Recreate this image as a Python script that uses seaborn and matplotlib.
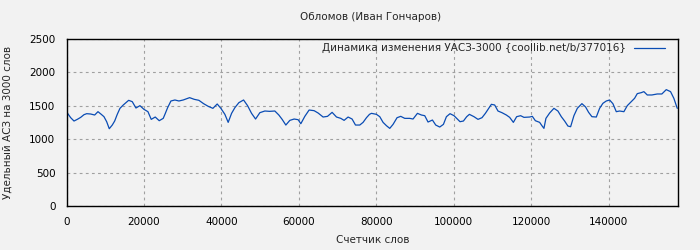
import matplotlib
matplotlib.use("Agg")
import matplotlib.pyplot as plt
import seaborn as sns
import pandas as pd

title = "Обломов (Иван Гончаров)"
x_label = "Счетчик слов"
y_label = "Удельный АСЗ на 3000 слов"
series_name = "Динамика изменения УАСЗ-3000 {coollib.net/b/377016}"

words = [0, 1080, 1935, 2787, 3664, 4516, 5213, 6245, 7277, 8129, 8981, 9677, 10374, 11045,
         11819, 12439, 13109, 13806, 14658, 15355, 16051, 16980, 17935, 18967, 20000, 21032,
         21884, 22916, 23948, 24980, 25419, 26116, 26967, 28000, 29032, 30141, 31793, 32980,
         34193, 35406, 36593, 37806, 38916, 39870, 40903, 41754, 42632, 43483, 44516, 45729,
         46761, 47793, 48825, 49935, 51225, 52438, 53806, 54838, 55690, 56645, 57677, 58787,
         59819, 60516, 61548, 62658, 63948, 64980, 66270, 67406, 68593, 69728, 70838, 71690,
         72722, 73754, 74632, 75741, 76593, 77470, 78244, 78760, 80050, 80903, 81754, 82632,
         83483, 84335, 85367, 86322, 87354, 88645, 89496, 90632, 91664, 92516, 93367, 94503,
         95354, 96386, 97341, 98115, 99044, 100076, 100773, 101625, 102502, 103354, 104050,
         105237, 106269, 107301, 108178, 109030, 109727, 110579, 111430, 112462, 113598,
         114449, 115404, 116255, 117287, 118139, 119610, 120306, 121081, 122190, 122784,
         123300, 123816, 124771, 125881, 126913, 127790, 128642, 129494, 130192, 131043,
         131921, 133108, 134062, 134837, 135689, 136824, 137676, 138528, 139405, 140257,
         141109, 141986, 142838, 143947, 144825, 145857, 146709, 147405, 148438, 149108,
         149986, 151173, 152566, 153753, 154889, 155999, 156851, 157728]

values = [1410, 1322, 1272, 1297, 1327, 1367, 1382, 1377, 1362, 1412, 1372, 1337, 1262, 1157,
          1212, 1272, 1372, 1462, 1512, 1547, 1582, 1562, 1467, 1502, 1447, 1412,
          1297, 1332, 1277, 1312, 1372, 1472, 1572, 1587, 1572, 1587, 1622, 1597,
          1582, 1532, 1492, 1462, 1527, 1462, 1372, 1252, 1387, 1472, 1547, 1587,
          1502, 1387, 1302, 1397, 1422, 1417, 1422, 1362, 1297, 1212, 1282, 1302,
          1292, 1232, 1342, 1437, 1427, 1392, 1332, 1342, 1402, 1332, 1312, 1282,
          1332, 1302, 1212, 1212, 1252, 1322, 1372, 1387, 1372, 1337, 1252, 1202,
          1162, 1222, 1322, 1342, 1312, 1312, 1302, 1387, 1362, 1352, 1257, 1287,
          1212, 1182, 1222, 1337, 1382, 1352, 1312, 1262, 1272, 1337, 1372,
          1337, 1297, 1322, 1387, 1462, 1522, 1512, 1422, 1397, 1362,
          1327, 1252, 1337, 1352, 1327, 1332, 1342, 1277, 1252, 1202,
          1162, 1312, 1392, 1462, 1422, 1337, 1272, 1197, 1187, 1352,
          1462, 1532, 1482, 1402, 1337, 1332, 1462, 1537, 1572, 1587,
          1532, 1412, 1422, 1412, 1502, 1562, 1612, 1682, 1697, 1712,
          1662, 1662, 1677, 1677, 1742, 1712, 1612, 1462]

x_ticks = [0, 20000, 40000, 60000, 80000, 100000, 120000, 140000]
y_ticks = [0, 500, 1000, 1500, 2000, 2500]

df = pd.DataFrame({"words": words, "value": values})

sns.set_theme(style="white")
plt.rcParams["font.family"] = ["DejaVu Sans"]
bg = "#f2f2f2"

fig = plt.figure(figsize=(7, 2.5), dpi=100, facecolor=bg)
ax = fig.add_axes([0.095, 0.176, 0.874, 0.668])
ax.set_facecolor(bg)

sns.lineplot(data=df, x="words", y="value", ax=ax, color="#0a4cb4", linewidth=0.9,
             label=series_name)

ax.set_xlim(0, 158000)
ax.set_ylim(0, 2500)
ax.set_xticks(x_ticks)
ax.set_xticklabels([str(t) for t in x_ticks])
ax.set_yticks(y_ticks)
ax.set_yticklabels([str(t) for t in y_ticks])
ax.tick_params(labelsize=7.5, length=0, pad=8, colors="black")
ax.grid(True, color="#a0a0a0", linestyle=(0, (2.5, 3)), linewidth=0.8)

for s in ax.spines.values():
    s.set_color("black")
    s.set_linewidth(1.0)

ax.set_xlabel(x_label, fontsize=7.5, labelpad=6)
ax.set_ylabel(y_label, fontsize=7.5, labelpad=12)
fig.text(0.53, 0.93, title, ha="center", va="center", fontsize=7.5)

leg = ax.legend(loc="upper right", bbox_to_anchor=(0.987, 1.005), frameon=False,
                markerfirst=False, fontsize=7.5, handlelength=3.0,
                borderaxespad=0.1, handletextpad=0.8)

fig.savefig("out.png", dpi=100, facecolor=bg)
